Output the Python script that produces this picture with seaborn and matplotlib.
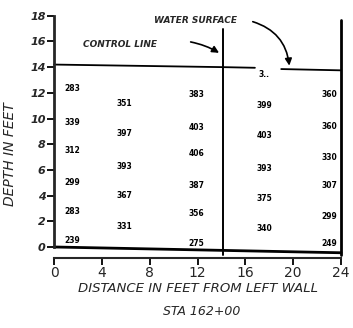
import matplotlib
matplotlib.use("Agg")
import matplotlib.pyplot as plt
import seaborn as sns

# velocity readings (as written on the sketch), per station column
col_x = [1.5, 5.9, 11.9, 17.6, 23.0]
col_labels = [
    ["283", "339", "312", "299", "283", "239"],
    ["351", "397", "393", "367", "331"],
    ["383", "403", "406", "387", "356", "275"],
    ["3..", "399", "403", "393", "375", "340"],
    ["360", "360", "330", "307", "299", "249"],
]
col_depths = [
    [12.3, 9.7, 7.5, 5.0, 2.8, 0.5],
    [11.2, 8.8, 6.3, 4.0, 1.6],
    [11.9, 9.3, 7.3, 4.8, 2.6, 0.3],
    [13.4, 11.0, 8.7, 6.1, 3.8, 1.4],
    [11.9, 9.4, 7.0, 4.8, 2.4, 0.3],
]

surface_left_x = [0, 14.1, 16.8]
surface_left_y = [14.2, 14.0, 13.95]
surface_right_x = [19.0, 24]
surface_right_y = [13.85, 13.75]
bottom_x = [0, 24]
bottom_y = [0.0, -0.45]
control_x = 14.1
x_ticks = [0, 4, 8, 12, 16, 20, 24]
y_ticks = [0, 2, 4, 6, 8, 10, 12, 14, 16, 18]

sns.set_style("white")
plt.rcParams["font.family"] = ["DejaVu Sans"]

fig = plt.figure(figsize=(3.53, 3.28), dpi=100)
ax = fig.add_axes([0.153, 0.247, 0.813, 0.705])

ink = "black"
sns.lineplot(x=surface_left_x, y=surface_left_y, color=ink, lw=1.3, ax=ax)
sns.lineplot(x=surface_right_x, y=surface_right_y, color=ink, lw=1.3, ax=ax)
sns.lineplot(x=bottom_x, y=bottom_y, color=ink, lw=2.0, ax=ax)
for ln in ax.lines:
    ln.set_clip_on(False)
ax.plot([control_x, control_x], [17.0, -0.6], color=ink, lw=1.4, clip_on=False)
ax.plot([24, 24], [17.7, -0.6], color=ink, lw=2.0, clip_on=False)

for xc, labs, deps in zip(col_x, col_labels, col_depths):
    for lab, d in zip(labs, deps):
        ax.text(xc, d, lab, fontsize=5.5, fontweight="bold", ha="center",
                va="center", color=ink)

ax.set_xlim(0, 24)
ax.set_ylim(0, 18)
ax.set_xticks(x_ticks)
ax.set_yticks(y_ticks)
ax.set_xticklabels([str(t) for t in x_ticks], fontsize=8.5, fontstyle="italic",
                   fontweight="bold")
ax.set_yticklabels([str(t) for t in y_ticks], fontsize=8, fontstyle="italic",
                   fontweight="bold")
ax.tick_params(axis="both", direction="out", length=5, width=1.3, color=ink,
               left=True, bottom=True, pad=1)

for side in ["top", "right"]:
    ax.spines[side].set_visible(False)
ax.spines["left"].set_linewidth(2.0)
ax.spines["bottom"].set_linewidth(1.5)
ax.spines["bottom"].set_position(("outward", 8))
ax.patch.set_alpha(0)

ax.set_xlabel("DISTANCE IN FEET FROM LEFT WALL", fontsize=9.5,
              fontstyle="italic", labelpad=1)
ax.set_ylabel("DEPTH IN FEET", fontsize=10, fontstyle="italic")
ax.yaxis.set_label_coords(-0.13, 0.4)

fig.text(0.57, 0.04, "STA 162+00", fontsize=9, fontstyle="italic", ha="center")

ax.text(8.4, 17.4, "WATER SURFACE", fontsize=6.5, fontstyle="italic",
        fontweight="bold")
ax.text(2.4, 15.6, "CONTROL LINE", fontsize=6.5, fontstyle="italic",
        fontweight="bold")
ax.annotate("", xy=(19.7, 13.9), xytext=(16.4, 17.6),
            arrowprops=dict(arrowstyle="-|>", color=ink, lw=1.2,
                            connectionstyle="arc3,rad=-0.35"))
ax.annotate("", xy=(14.0, 15.0), xytext=(11.2, 16.0),
            arrowprops=dict(arrowstyle="-|>", color=ink, lw=1.2,
                            connectionstyle="arc3,rad=-0.1"))

fig.savefig("out.png", dpi=100)
